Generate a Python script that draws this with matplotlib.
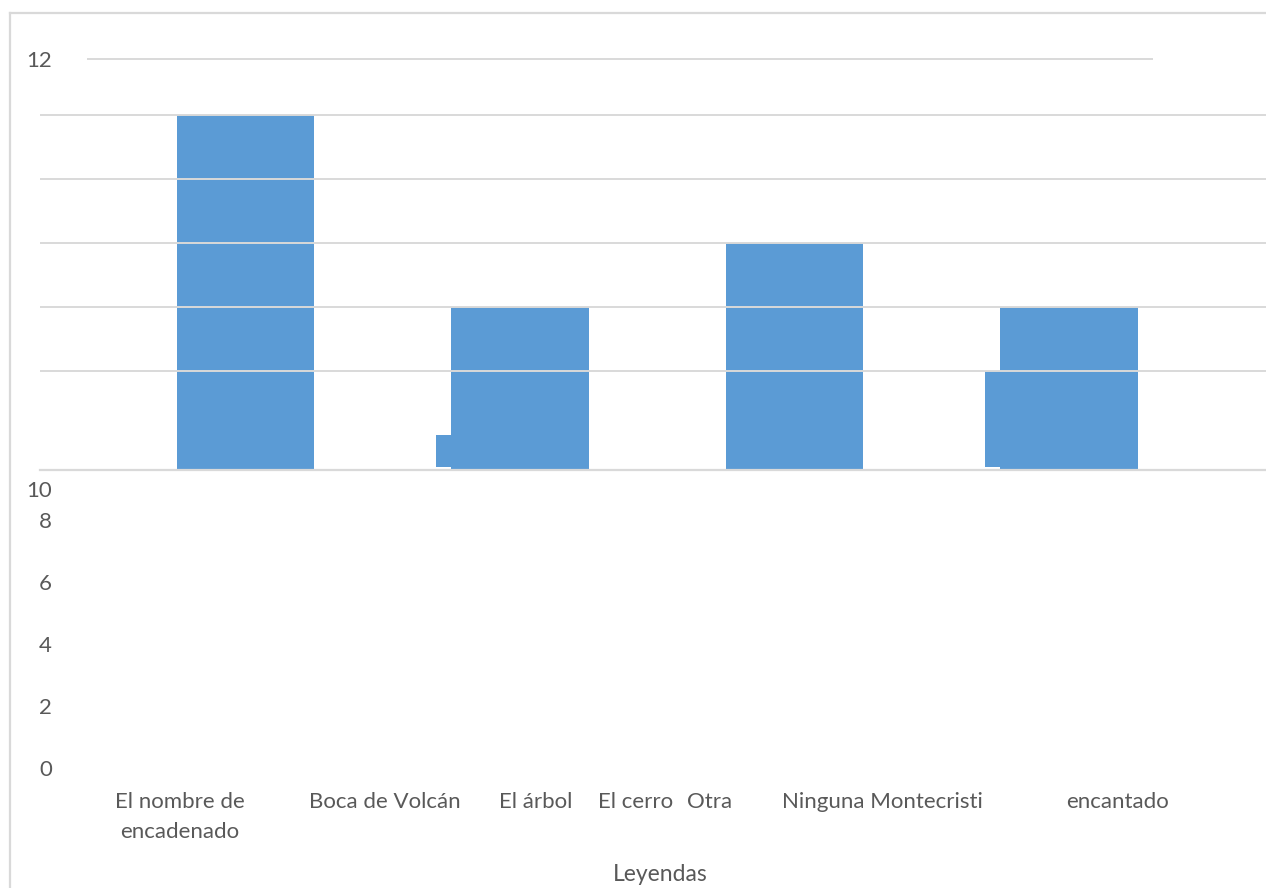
import numpy as np
import matplotlib.pyplot as plt
from matplotlib.lines import Line2D
from matplotlib.transforms import blended_transform_factory

plt.rcParams["font.family"] = ["Lato", "DejaVu Sans"]

# data
SERIES_MAIN = [12, 6, 8, 6]           # big blue columns
SERIES_SMALL = [np.nan, 2, np.nan, 4]  # thin columns beside 2nd and 4th
SMALL_BASE = 1.0

CAT_LABELS = ["El nombre de\nencadenado", "Boca de Volcán", "El árbol",
              "El cerro", "Otra", "Ninguna Montecristi", "encantado"]
CAT_POS = [-0.239, 0.506, 1.058, 1.422, 1.690, 2.322, 3.177]

GRID_TICKS = [4, 6, 8, 10, 12]
LOW_TICKS = [0, 2, 4, 6, 8, 9]
LOW_TICKLABELS = ["0", "2", "4", "6", "8", "10"]

BLUE = "#5B9BD5"
GRID = "#D9D9D9"
TXT = "#595959"
FS = 16

W, H = 1266, 888
fig = plt.figure(figsize=(W / 100, H / 100), dpi=100)


def rect(x0, y0, x1, y1):
    # pixel box (top-left origin) -> figure fraction
    return [x0 / W, 1 - y1 / H, (x1 - x0) / W, (y1 - y0) / H]


XLIM = (-0.7486, 3.7177)

# upper panel with the columns
ax = fig.add_axes(rect(40, 59, 1266, 470))
x = np.arange(len(SERIES_MAIN))
ax.bar(x, SERIES_MAIN, width=0.5, color=BLUE, zorder=1)
small = np.array(SERIES_SMALL) - SMALL_BASE
ax.bar(x - 0.279, small, bottom=SMALL_BASE, width=0.0546, color=BLUE, zorder=1)
ax.set_xlim(*XLIM)
ax.set_ylim(0.906, 13.75)
ax.set_yticks(GRID_TICKS)
ax.set_yticklabels([])
ax.tick_params(length=0, labelbottom=False)
ax.set_xticks([])
ax.grid(axis="y", color=GRID, lw=1.4, zorder=2)
ax.set_axisbelow(False)
for s in ["top", "left", "right"]:
    ax.spines[s].set_visible(False)
ax.spines["bottom"].set_color(GRID)
ax.spines["bottom"].set_linewidth(1.6)
ax.spines["bottom"].set_zorder(3)
ax.axhline(13.75, xmin=0.039, xmax=0.907, color=GRID, lw=1.4, clip_on=False)
tr = blended_transform_factory(ax.transAxes, ax.transData)
ax.text(0.0098, 13.75, "12", transform=tr, ha="right", va="center_baseline",
        fontsize=FS, color=TXT)

# lower panel: axis labels only
ax2 = fig.add_axes(rect(40, 478, 1266, 778))
ax2.set_xlim(*XLIM)
ax2.set_ylim(-0.3226, 9.355)
ax2.set_yticks(LOW_TICKS, LOW_TICKLABELS)
ax2.set_xticks(CAT_POS, CAT_LABELS)
ax2.tick_params(length=0, labelsize=FS, labelcolor=TXT)
ax2.tick_params(axis="y", pad=-8.6)
ax2.tick_params(axis="x", pad=10)
for lab in ax2.get_xticklabels():
    lab.set_multialignment("center")
    lab.set_linespacing(1.65)
for s in ax2.spines.values():
    s.set_visible(False)
ax2.patch.set_visible(False)
ax2.set_xlabel("Leyendas", fontsize=FS + 0.5, color=TXT)
ax2.xaxis.set_label_coords((660 - 40) / 1226, -0.288)

# chart frame
fig.add_artist(Line2D([10 / W, 10 / W], [0, 1 - 13 / H], color=GRID, lw=1.6))
fig.add_artist(Line2D([10 / W, 1], [1 - 13 / H, 1 - 13 / H], color=GRID, lw=1.6))

fig.savefig("out.png", dpi=100)
